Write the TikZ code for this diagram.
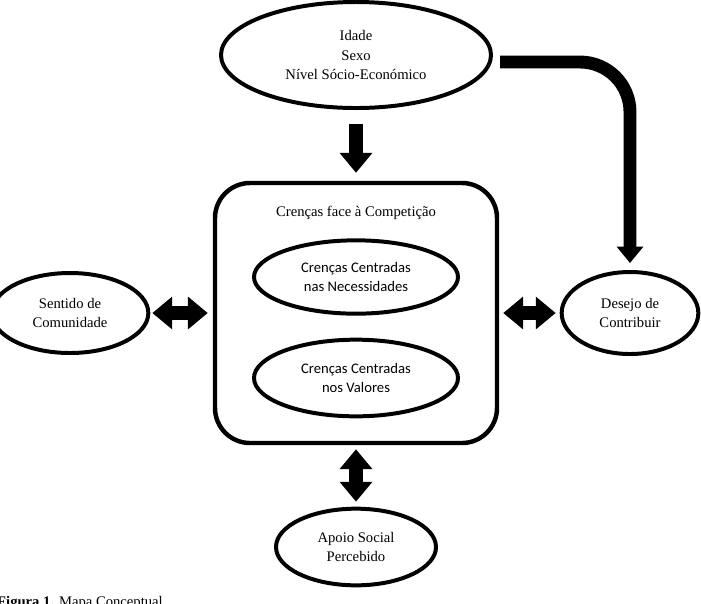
\documentclass[tikz,border=0pt]{standalone}
\usepackage{fontspec}
\setmainfont{Liberation Serif}
\newfontfamily\calibri{Carlito}
\usetikzlibrary{shapes.geometric,arrows.meta,positioning}

\tikzset{
  concept/.style={ellipse, draw, line width=3.4pt, align=center, inner sep=0pt,
    font=\fontsize{12.5}{17}\selectfont},
  belief/.style={concept, font=\calibri\fontsize{12.5}{17}\selectfont},
  frame/.style={draw, line width=3.8pt, rounded corners=1.05cm,
    minimum width=8.46cm, minimum height=7.8cm},
  oneway/.style={line width=12.5pt, -{Triangle[length=17pt,width=27pt]}},
  twoway/.style={line width=12.5pt,
    {Triangle[length=17pt,width=27pt]}-{Triangle[length=17pt,width=27pt]}},
  turnarrow/.style={line width=11pt, rounded corners=1.5cm,
    -{Triangle[length=14pt,width=22pt]}},
}

\begin{document}
\begin{tikzpicture}[x=0.03cm, y=-0.03cm]
\useasboundingbox (0,0) rectangle (701,603);

%% beliefs about competition
\node[frame] (beliefs) at (356,313) {};
\node[font=\fontsize{12.5}{17}\selectfont] (beliefs_title) at (356,213) {Crenças face à Competição};
\node[belief, minimum width=6.12cm, minimum height=2.2cm] (needs) at (356,277) {Crenças Centradas\\nas Necessidades};
\node[belief, minimum width=6.12cm, minimum height=2.3cm] (values) at (356,378) {Crenças Centradas\\nos Valores};

%% outer concepts
\node[concept, minimum width=8.1cm, minimum height=3.18cm] (demog) at (356,55) {Idade\\Sexo\\Nível Sócio-Económico};
\node[concept, minimum width=4.7cm, minimum height=2.4cm] (community) at (70,313) {Sentido de\\Comunidade};
\node[concept, minimum width=4.1cm, minimum height=2.46cm] (contribute) at (630,313) {Desejo de\\Contribuir};
\node[concept, minimum width=4.8cm, minimum height=2.3cm] (support) at (356,547) {Apoio Social\\Percebido};

%% arrows
\draw[oneway, shorten <=0.42cm, shorten >=0.24cm] (demog.south) -- (beliefs.north);
\draw[twoway, shorten <=0.06cm, shorten >=0.15cm] (community.east) -- (beliefs.west);
\draw[twoway, shorten <=0.12cm, shorten >=0.12cm] (beliefs.east) -- (contribute.west);
\draw[twoway, shorten <=0.12cm, shorten >=0.15cm] (beliefs.south) -- (support.north);
\draw[turnarrow] ([shift={(7,7)}]demog.east) -| ([yshift=0.21cm]contribute.north);

%% caption
\node[anchor=base west, inner sep=0pt, font=\fontsize{12.5}{15}\selectfont] (caption) at (-3,606) {\textbf{Figura 1.} Mapa Conceptual};

\end{tikzpicture}
\end{document}
